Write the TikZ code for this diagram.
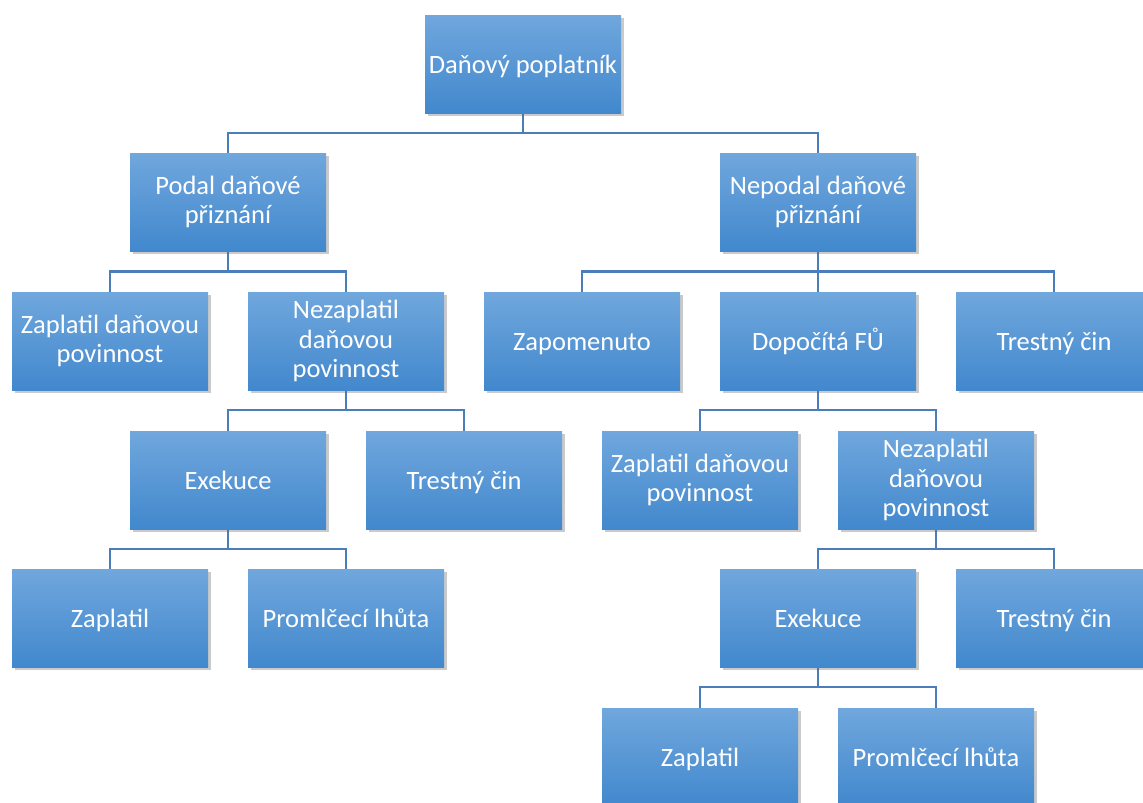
\documentclass[tikz,border=0pt]{standalone}
\usepackage{fontspec}
\setmainfont{Carlito}
\usepackage{tikz}
\usetikzlibrary{shadows,backgrounds}
\usetikzlibrary{calc}
\pgfdeclarelayer{edgelayer}
\pgfdeclarelayer{nodelayer}
\pgfsetlayers{background,edgelayer,nodelayer,main}
\definecolor{boxtop}{RGB}{112,167,221}
\definecolor{boxbot}{RGB}{66,136,205}
\definecolor{linkblue}{RGB}{74,126,187}
\tikzstyle{none}=[inner sep=0mm]
\tikzstyle{org box}=[rectangle,top color=boxtop,bottom color=boxbot,draw=none,
	minimum width=196pt,minimum height=98pt,inner sep=0pt,align=center,
	text=white,font=\fontsize{26.5}{29.5}\selectfont,
	drop shadow={shadow xshift=2.5pt,shadow yshift=-3pt,opacity=0.35,fill=black!60}]
\tikzstyle{one line}=[org box,text height=25.2pt,text depth=7.1pt]
\tikzstyle{link}=[draw=linkblue,line width=2.5pt]

\begin{document}
\begin{tikzpicture}[x=1pt,y=-1pt]
	\useasboundingbox (0,0) rectangle (1143,803);
	\begin{pgfonlayer}{nodelayer}
		\node [style={one line}] (root) at (523, 64) {Daňový poplatník};
		\node [style={org box}] (podal) at (228, 202) {Podal daňové\\přiznání};
		\node [style={org box}] (nepodal) at (818, 202) {Nepodal daňové\\přiznání};
		\node [style={org box}] (zapl1) at (110, 341) {Zaplatil daňovou\\povinnost};
		\node [style={org box}] (nezapl1) at (346, 341) {Nezaplatil\\daňovou\\povinnost};
		\node [style={one line}] (zapom) at (582, 341) {Zapomenuto};
		\node [style={one line}] (dopoc) at (818, 341) {Dopočítá FŮ};
		\node [style={one line}] (trest1) at (1054, 341) {Trestný čin};
		\node [style={one line}] (exek1) at (228, 480) {Exekuce};
		\node [style={one line}] (trest2) at (464, 480) {Trestný čin};
		\node [style={org box}] (zapl2) at (700, 480) {Zaplatil daňovou\\povinnost};
		\node [style={org box}] (nezapl2) at (936, 480) {Nezaplatil\\daňovou\\povinnost};
		\node [style={one line}] (zaplex1) at (110, 618) {Zaplatil};
		\node [style={one line}] (proml1) at (346, 618) {Promlčecí lhůta};
		\node [style={one line}] (exek2) at (818, 618) {Exekuce};
		\node [style={one line}] (trest3) at (1054, 618) {Trestný čin};
		\node [style={one line}] (zaplex2) at (700, 757) {Zaplatil};
		\node [style={one line}] (proml2) at (936, 757) {Promlčecí lhůta};
	\end{pgfonlayer}
	\begin{pgfonlayer}{edgelayer}
		\draw[style=link] (root.south) -- ++(0,20) -| (podal.north);
		\draw[style=link] (root.south) -- ++(0,20) -| (nepodal.north);
		\draw[style=link] (podal.south) -- ++(0,20.5) -| (zapl1.north);
		\draw[style=link] (podal.south) -- ++(0,20.5) -| (nezapl1.north);
		\draw[style=link] (nepodal.south) -- ++(0,20.5) -| (zapom.north);
		\draw[style=link] (nepodal.south) -- ++(0,20.5) -| (dopoc.north);
		\draw[style=link] (nepodal.south) -- ++(0,20.5) -| (trest1.north);
		\draw[style=link] (nezapl1.south) -- ++(0,20) -| (exek1.north);
		\draw[style=link] (nezapl1.south) -- ++(0,20) -| (trest2.north);
		\draw[style=link] (dopoc.south) -- ++(0,20) -| (zapl2.north);
		\draw[style=link] (dopoc.south) -- ++(0,20) -| (nezapl2.north);
		\draw[style=link] (exek1.south) -- ++(0,20) -| (zaplex1.north);
		\draw[style=link] (exek1.south) -- ++(0,20) -| (proml1.north);
		\draw[style=link] (nezapl2.south) -- ++(0,20) -| (exek2.north);
		\draw[style=link] (nezapl2.south) -- ++(0,20) -| (trest3.north);
		\draw[style=link] (exek2.south) -- ++(0,20) -| (zaplex2.north);
		\draw[style=link] (exek2.south) -- ++(0,20) -| (proml2.north);
	\end{pgfonlayer}
\end{tikzpicture}
\end{document}
